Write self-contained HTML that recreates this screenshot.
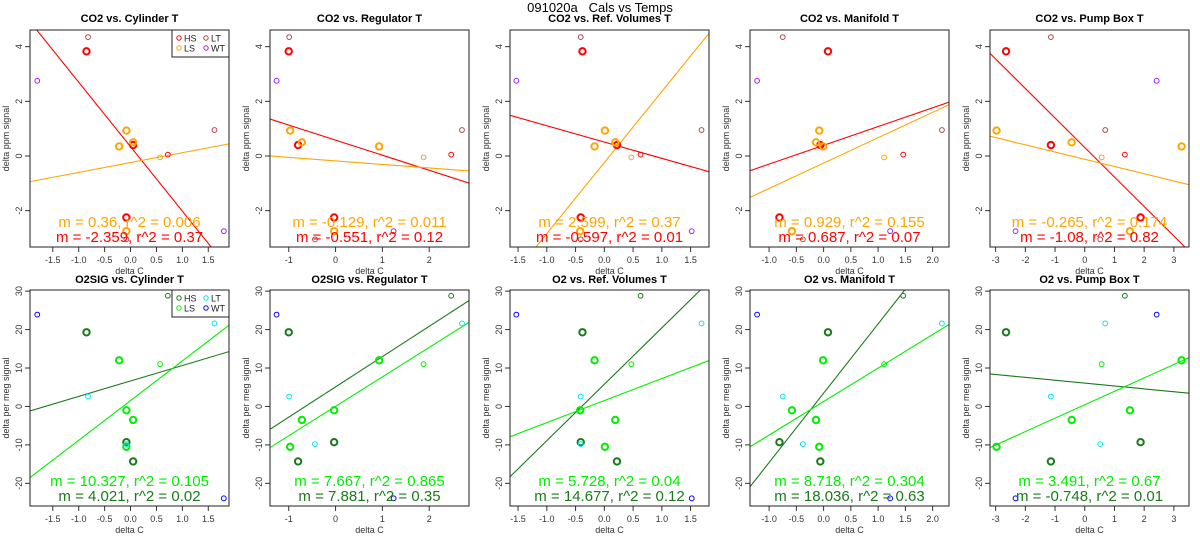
<!DOCTYPE html>
<html><head><meta charset="utf-8"><style>
body{margin:0;background:#fff;}
svg{display:block;font-family:"Liberation Sans",sans-serif;}
</style></head><body>
<svg id="chart" width="1200" height="550" xmlns="http://www.w3.org/2000/svg">
<text x="600" y="12" text-anchor="middle" font-size="13">091020a&#160;&#160;&#160;Cals vs Temps</text>
</svg>
<script>
// point groups: 0=HS,1=LS,2=LT,3=WT
const pointGroup = [0,0,0,0,1,1,1,1,1,2,2,2,3,3];
const pointThick = [1,1,1,0,1,1,1,1,0,0,0,0,0,0];
const co2Values = [3.83,0.4,-2.25,0.05,0.93,0.35,0.5,-2.75,-0.05,4.35,0.95,-3.05,2.75,-2.75];
const o2Values = [19.3,-14.3,-9.3,28.8,-10.5,12,-3.5,-1,11,2.6,21.6,-9.8,23.9,-23.9];
const xCylinder = [-0.85,0.05,-0.08,0.72,-0.08,-0.22,0.05,-0.08,0.57,-0.82,1.62,-0.08,-1.8,1.8];
const xRegulator = [-1.0,-0.8,-0.03,2.47,-0.97,0.93,-0.72,-0.03,1.88,-0.99,2.7,-0.44,-1.26,1.24];
const xRefVol = [-0.38,0.22,-0.41,0.63,0.01,-0.17,0.19,-0.42,0.47,-0.41,1.69,-0.41,-1.53,1.52];
const xManifold = [0.08,-0.06,-0.81,1.46,-0.08,-0.01,-0.14,-0.58,1.11,-0.75,2.17,-0.38,-1.22,1.22];
const xPumpBox = [-2.65,-1.14,1.88,1.35,-2.97,3.26,-0.44,1.52,0.57,-1.14,0.69,0.52,2.42,-2.33];
const xSets = [xCylinder,xRegulator,xRefVol,xManifold,xPumpBox];
const xRanges = [[-1.94,1.9],[-1.4,2.85],[-1.64,1.82],[-1.35,2.3],[-3.19,3.51]];
const xTickSets = [[-1.5,-1,-0.5,0,0.5,1,1.5],[-1,0,1,2],[-1.5,-1,-0.5,0,0.5,1,1.5],[-1,-0.5,0,0.5,1,1.5,2],[-3,-2,-1,0,1,2,3]];
const xTickLabels = [["-1.5","-1.0","-0.5","0.0","0.5","1.0","1.5"],["-1","0","1","2"],["-1.5","-1.0","-0.5","0.0","0.5","1.0","1.5"],["-1.0","-0.5","0.0","0.5","1.0","1.5","2.0"],["-3","-2","-1","0","1","2","3"]];
const topTitles = ["CO2 vs. Cylinder T","CO2 vs. Regulator T","CO2 vs. Ref. Volumes T","CO2 vs. Manifold T","CO2 vs. Pump Box T"];
const botTitles = ["O2SIG vs. Cylinder T","O2SIG vs. Regulator T","O2 vs. Ref. Volumes T","O2 vs. Manifold T","O2 vs. Pump Box T"];
// fits: [slope, intercept] for HS and LS
const topHSFit = [[-2.359,0.34],[-0.551,0.58],[-0.597,0.51],[0.687,0.39],[-1.08,0.31]];
const topLSFit = [[0.36,-0.24],[-0.129,-0.18],[2.599,-0.24],[0.929,-0.26],[-0.265,-0.12]];
const botHSFit = [[4.021,6.63],[7.881,5.09],[14.677,5.77],[18.036,3.45],[-0.748,6.07]];
const botLSFit = [[10.327,1.53],[7.667,0.03],[5.728,1.53],[8.718,1.27],[3.491,0.44]];
const topLSText = ["m = 0.36, r^2 = 0.006","m = -0.129, r^2 = 0.011","m = 2.599, r^2 = 0.37","m = 0.929, r^2 = 0.155","m = -0.265, r^2 = 0.174"];
const topHSText = ["m = -2.359, r^2 = 0.37","m = -0.551, r^2 = 0.12","m = -0.597, r^2 = 0.01","m = 0.687, r^2 = 0.07","m = -1.08, r^2 = 0.82"];
const botLSText = ["m = 10.327, r^2 = 0.105","m = 7.667, r^2 = 0.865","m = 5.728, r^2 = 0.04","m = 8.718, r^2 = 0.304","m = 3.491, r^2 = 0.67"];
const botHSText = ["m = 4.021, r^2 = 0.02","m = 7.881, r^2 = 0.35","m = 14.677, r^2 = 0.12","m = 18.036, r^2 = 0.63","m = -0.748, r^2 = 0.01"];
const groupNames = ["HS","LS","LT","WT"];

const svg = document.getElementById('chart');
const NS = 'http://www.w3.org/2000/svg';
function mk(tag, attrs, parent){const e=document.createElementNS(NS,tag);for(const k in attrs)e.setAttribute(k,attrs[k]);(parent||svg).appendChild(e);return e;}

const rows = [
  {top:30,bot:247,yMin:-3.33,yMax:4.61,ticks:[-2,0,2,4],vals:co2Values,titles:topTitles,colors:['#ff0000','#ffa500','#b04848','#a020f0'],
   hsFit:topHSFit,lsFit:topLSFit,hsText:topHSText,lsText:topLSText,ylab:'delta ppm signal',ty:22},
  {top:290,bot:506,yMin:-25.9,yMax:30.3,ticks:[-20,-10,0,10,20,30],vals:o2Values,titles:botTitles,colors:['#1a7a1a','#00ee00','#00e5ee','#0000ff'],
   hsFit:botHSFit,lsFit:botLSFit,hsText:botHSText,lsText:botLSText,ylab:'delta per meg signal',ty:283}
];

rows.forEach((R,ri)=>{
  for(let p=0;p<5;p++){
    const L=p*240+30, Rt=p*240+229;
    const [x0,x1]=xRanges[p];
    const sx=v=>L+(v-x0)/(x1-x0)*(Rt-L);
    const sy=v=>R.bot-(v-R.yMin)/(R.yMax-R.yMin)*(R.bot-R.top);
    const g=mk('g',{});
    
    
    const cid='clip'+ri+p;
    const cp=mk('clipPath',{id:cid},g); mk('rect',{x:L,y:R.top,width:Rt-L,height:R.bot-R.top},cp);
    const t=mk('text',{x:(L+Rt)/2,y:R.ty,'text-anchor':'middle','font-size':11,'font-weight':'bold'},g); t.textContent=R.titles[p];
    
    
    R.ticks.forEach(v=>{
      const y=sy(v);
      mk('line',{x1:L-5,x2:L,y1:y,y2:y,stroke:'#333','stroke-width':1},g);
      const tl=mk('text',{x:0,y:0,transform:`translate(${L-8},${y}) rotate(-90)`,'text-anchor':'middle','font-size':9,fill:'#333'},g);
      tl.textContent=String(v);
      
      
    });
    const yl=mk('text',{x:0,y:0,transform:`translate(${L-21},${(R.top+R.bot)/2}) rotate(-90)`,'text-anchor':'middle','font-size':9,fill:'#333'},g);
    yl.textContent=R.ylab;
    
    
    xTickSets[p].forEach((v,i)=>{
      const x=sx(v);
      mk('line',{x1:x,x2:x,y1:R.bot,y2:R.bot+5,stroke:'#333','stroke-width':1},g);
      const tl=mk('text',{x:x,y:R.bot+16,'text-anchor':'middle','font-size':9,fill:'#333'},g);
      tl.textContent=xTickLabels[p][i];
      
      
    });
    const xl=mk('text',{x:(L+Rt)/2,y:R.bot+27,'text-anchor':'middle','font-size':9,fill:'#333'},g);
    xl.textContent='delta C';
    
    
    const cg=mk('g',{'clip-path':`url(#${cid})`},g);
    [[R.hsFit[p],R.colors[0],'hs-fit-line'],[R.lsFit[p],R.colors[1],'ls-fit-line']].forEach(([f,c,n])=>{
      const ln=mk('line',{x1:sx(x0),y1:sy(f[0]*x0+f[1]),x2:sx(x1),y2:sy(f[0]*x1+f[1]),stroke:c,'stroke-width':1.1},cg);
      
      
    });
    R.vals.forEach((v,i)=>{
      const th=pointThick[i];
      const c=mk('circle',{cx:sx(xSets[p][i]),cy:sy(v),r:th?3.2:2.4,fill:'none',stroke:R.colors[pointGroup[i]],'stroke-width':th?2:1},cg);
      
      
    });
    const a1=mk('text',{x:(L+Rt)/2,y:R.bot-20,'text-anchor':'middle','font-size':15,fill:R.colors[1]},g);
    a1.textContent=R.lsText[p];
    
    
    const a2=mk('text',{x:(L+Rt)/2,y:R.bot-5,'text-anchor':'middle','font-size':15,fill:R.colors[0]},g);
    a2.textContent=R.hsText[p];
    
    
    mk('rect',{x:L,y:R.top,width:Rt-L,height:R.bot-R.top,fill:'none',stroke:'#222','stroke-width':1},g);
    if(p===0){
      const lg=mk('g',{},g);
      
      
      mk('rect',{x:172,y:R.top,width:57,height:27,fill:'#fff',stroke:'#222','stroke-width':1},lg);
      const pos=[[179,R.top+8],[179,R.top+18],[206,R.top+8],[206,R.top+18]];
      groupNames.forEach((n,gi)=>{
        mk('circle',{cx:pos[gi][0],cy:pos[gi][1],r:2.2,fill:'none',stroke:R.colors[gi],'stroke-width':1},lg);
        const lt=mk('text',{x:pos[gi][0]+5,y:pos[gi][1]+3.5,'font-size':9,fill:'#222'},lg);
        lt.textContent=n;
        
        
      });
    }
  }
});
</script>
</body></html>
